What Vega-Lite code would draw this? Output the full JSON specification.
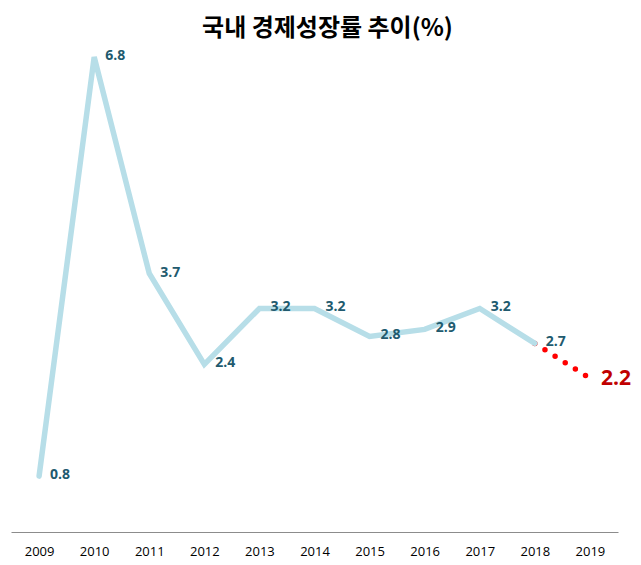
{
  "$schema": "https://vega.github.io/schema/vega-lite/v6.json",
  "width": 607,
  "height": 475,
  "autosize": {"type": "none"},
  "padding": {"left": 11, "top": 57, "right": 23, "bottom": 33},
  "background": "white",
  "title": {
    "text": "국내 경제성장률 추이(%)",
    "font": "Noto Sans CJK KR",
    "fontSize": 24,
    "fontWeight": "bold",
    "color": "#000000",
    "anchor": "middle",
    "dx": 13,
    "offset": 5
  },
  "data": {
    "values": [
      {"year": "2009", "value": 0.8},
      {"year": "2010", "value": 6.8},
      {"year": "2011", "value": 3.7},
      {"year": "2012", "value": 2.4},
      {"year": "2013", "value": 3.2},
      {"year": "2014", "value": 3.2},
      {"year": "2015", "value": 2.8},
      {"year": "2016", "value": 2.9},
      {"year": "2017", "value": 3.2},
      {"year": "2018", "value": 2.7},
      {"year": "2019", "value": 2.2}
    ]
  },
  "encoding": {
    "x": {
      "field": "year",
      "type": "ordinal",
      "scale": {"type": "point", "padding": 0.51},
      "axis": {
        "title": null,
        "labelAngle": 0,
        "ticks": false,
        "grid": false,
        "domainColor": "#8c8c8c",
        "domainWidth": 1,
        "labelFont": "Open Sans",
        "labelFontSize": 13,
        "labelColor": "#000000",
        "labelPadding": 13
      }
    },
    "y": {
      "field": "value",
      "type": "quantitative",
      "scale": {"domain": [0, 6.8], "nice": false, "zero": true},
      "axis": null
    }
  },
  "layer": [
    {
      "transform": [{"filter": "datum.year >= '2018'"}],
      "mark": {"type": "line", "color": "#ff0000", "strokeWidth": 5.5, "strokeCap": "round", "strokeDash": [0, 12], "clip": false}
    },
    {
      "transform": [{"filter": "datum.year <= '2018'"}],
      "mark": {"type": "line", "color": "#b7dee8", "strokeWidth": 5.5, "strokeCap": "round", "strokeJoin": "miter", "clip": false}
    },
    {
      "transform": [{"filter": "datum.year <= '2018'"}],
      "mark": {"type": "text", "align": "left", "baseline": "middle", "dx": 11, "dy": -1, "font": "Open Sans", "fontSize": 14, "fontWeight": "bold", "color": "#215a6e"},
      "encoding": {"text": {"field": "value", "type": "quantitative", "format": ".1f"}}
    },
    {
      "transform": [{"filter": "datum.year == '2019'"}],
      "mark": {"type": "text", "align": "left", "baseline": "middle", "dx": 11, "dy": 1, "font": "Open Sans", "fontSize": 21, "fontWeight": "bold", "color": "#c00000"},
      "encoding": {"text": {"field": "value", "type": "quantitative", "format": ".1f"}}
    }
  ],
  "config": {"view": {"stroke": null}}
}
